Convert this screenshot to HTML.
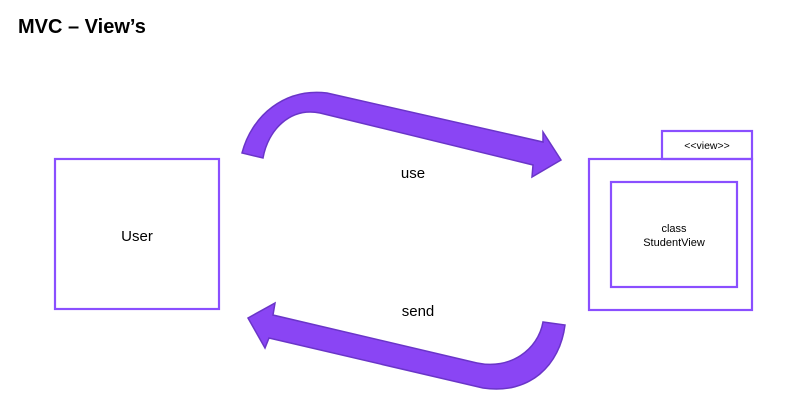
<!DOCTYPE html>
<html><head><meta charset="utf-8"><style>
html,body{margin:0;padding:0;background:#fff;}
body{width:805px;height:404px;overflow:hidden;position:relative;font-family:"Liberation Sans",sans-serif;}
</style></head><body>
<svg width="805" height="404" viewBox="0 0 805 404" xmlns="http://www.w3.org/2000/svg" style="position:absolute;left:0;top:0">
<text x="18" y="33" font-family="Liberation Sans, sans-serif" font-weight="bold" font-size="20" fill="#000">MVC – View’s</text>
<g fill="none" stroke="#8a4fff" stroke-width="2.2">
<rect x="55" y="159" width="164" height="150"/>
<rect x="589" y="159" width="163" height="151"/>
<rect x="662" y="131" width="90" height="28"/>
<rect x="611" y="182" width="126" height="105"/>
</g>
<path d="M242,153 C252,115 285,88 327,93 L543,142 L543,132 L561,160 L532,177 L533,165 L320,113 C290,107 268,130 263,158 Z" fill="#8a45f4" stroke="#6a35c8" stroke-width="1.5"/>
<path d="M565,325 C560,365 530,395 483,388 L269,338 L265,348 L248,318 L275,303 L273,315 L477,363 C510,370 538,350 543,322 Z" fill="#8a45f4" stroke="#6a35c8" stroke-width="1.5"/>
<g font-family="Liberation Sans, sans-serif" fill="#000" text-anchor="middle">
<text x="137" y="241" font-size="15">User</text>
<text x="413" y="178" font-size="15">use</text>
<text x="418" y="316" font-size="15">send</text>
<text x="707" y="149" font-size="10.5">&lt;&lt;view&gt;&gt;</text>
<text x="674" y="232" font-size="11">class</text>
<text x="674" y="246" font-size="11">StudentView</text>
</g>
</svg>
</body></html>
